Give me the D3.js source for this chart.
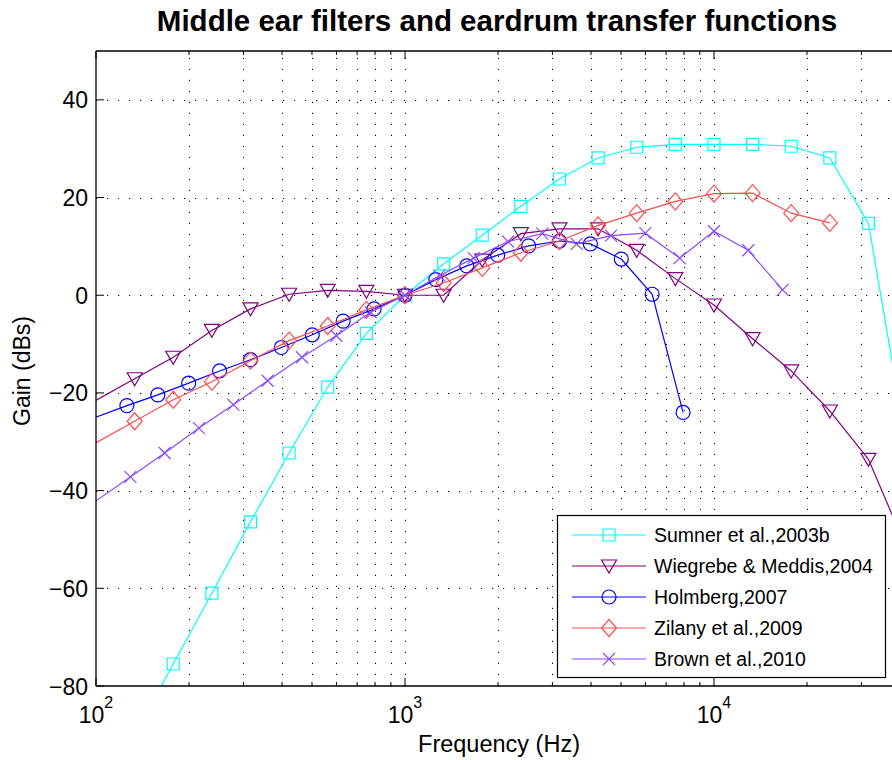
<!DOCTYPE html>
<html>
<head>
<meta charset="utf-8">
<script src="https://cdn.jsdelivr.net/npm/d3@7"></script>
<style>
  html, body { margin: 0; padding: 0; background: #fff; }
  svg { display: block; font-family: "Liberation Sans", Arial, Helvetica, sans-serif; }
</style>
</head>
<body>
<svg id="chart" width="892" height="760"></svg>
<script>
// ---------------- data ----------------
const seriesNames = ["Sumner et al.,2003b", "Wiegrebe & Meddis,2004", "Holmberg,2007", "Zilany et al.,2009", "Brown et al.,2010"];

const sumnerFreq = [133.4, 177.8, 237.1, 316.2, 421.7, 562.3, 749.9, 1000, 1333.5, 1778.3, 2371.4, 3162.3, 4217, 5623.4, 7498.9, 10000, 13335, 17783, 23714, 31623, 42170];
const sumnerGain = [-90, -75.5, -61.0, -46.4, -32.3, -18.8, -7.8, 0, 6.4, 12.3, 18.2, 23.8, 28.1, 30.3, 30.9, 30.9, 30.9, 30.5, 28.1, 14.7, -31.4];

const wiegFreq = [75, 133.4, 177.8, 237.1, 316.2, 421.7, 562.3, 749.9, 1000, 1333.5, 1778.3, 2371.4, 3162.3, 4217, 5623.4, 7498.9, 10000, 13335, 17783, 23714, 31623, 42170];
const wiegGain = [-25.9, -17.1, -12.7, -7.2, -2.8, 0.2, 1.0, 0.8, 0, 0.0, 7.2, 12.6, 13.6, 13.6, 9.2, 3.4, -2.0, -8.9, -15.5, -23.7, -33.6, -52.1];

const holmFreq = [79.4, 125.9, 158.5, 199.5, 251.2, 316.2, 398.1, 501.2, 631, 794.3, 1000, 1258.9, 1584.9, 1995.3, 2511.9, 3162.3, 3981.1, 5011.9, 6309.6, 7943.3];
const holmGain = [-27.3, -22.6, -20.4, -18.0, -15.5, -13.2, -10.7, -8.1, -5.3, -2.8, 0, 3.2, 6.0, 8.2, 10.1, 11.1, 10.5, 7.4, 0.2, -24.0];

const zilFreq = [75, 133.4, 177.8, 237.1, 316.2, 421.7, 562.3, 749.9, 1000, 1333.5, 1778.3, 2371.4, 3162.3, 4217, 5623.4, 7498.9, 10000, 13335, 17783, 23714];
const zilGain = [-34.6, -25.8, -21.4, -17.7, -13.4, -9.3, -6.3, -3.0, 0, 2.5, 5.6, 8.7, 11.1, 14.3, 16.8, 19.2, 20.8, 20.9, 16.8, 14.8];

const brownFreq = [77.4, 129.2, 166.8, 215.4, 278.3, 359.4, 464.2, 599.5, 774.3, 1000, 1291.5, 1668.1, 2154.4, 2782.6, 3593.8, 4641.6, 5994.8, 7742.6, 10000, 12915, 16681];
const brownGain = [-47, -37.2, -32.3, -27.2, -22.4, -17.5, -12.7, -8.3, -3.5, 0, 4.0, 7.6, 11.0, 12.6, 10.5, 12.2, 12.7, 7.6, 13.1, 9.2, 1.1];

const yTicks = [-80, -60, -40, -20, 0, 20, 40];
const xMajorTicks = [100, 1000, 10000];
const xMinorTicks = [200, 300, 400, 500, 600, 700, 800, 900, 2000, 3000, 4000, 5000, 6000, 7000, 8000, 9000, 20000, 30000, 40000];

const titleText = "Middle ear filters and eardrum transfer functions";
const xLabel = "Frequency (Hz)";
const yLabel = "Gain (dBs)";

// ---------------- layout ----------------
const colors = ["#00ffff", "#800080", "#0000ff", "#ff4d4d", "#8a4bff"];
const markers = ["square", "triangle", "circle", "diamond", "x"];
const series = [
  { freq: sumnerFreq, gain: sumnerGain },
  { freq: wiegFreq, gain: wiegGain },
  { freq: holmFreq, gain: holmGain },
  { freq: zilFreq, gain: zilGain },
  { freq: brownFreq, gain: brownGain }
];

const plot = { left: 96, right: 900, top: 51, bottom: 686 };
const x = d3.scaleLog().domain([100, 40000]).range([plot.left, plot.right]);
const y = d3.scaleLinear().domain([-80, 50]).range([plot.bottom, plot.top]);

const svg = d3.select("#chart");

svg.append("defs").append("clipPath").attr("id", "plotclip")
  .append("rect")
  .attr("x", plot.left).attr("y", plot.top)
  .attr("width", plot.right - plot.left).attr("height", plot.bottom - plot.top);

// grid
const grid = svg.append("g").attr("stroke", "#000").attr("stroke-width", 1)
  .attr("stroke-dasharray", "1.2,9.8").attr("fill", "none");
xMajorTicks.concat(xMinorTicks).forEach(v => {
  if (v <= 100) return;
  const px = Math.round(x(v)) + 0.5;
  grid.append("line").attr("x1", px).attr("x2", px).attr("y1", plot.bottom).attr("y2", plot.top);
});
yTicks.forEach(v => {
  if (v <= -80) return;
  const py = Math.round(y(v)) + 0.5;
  grid.append("line").attr("x1", plot.left).attr("x2", plot.right).attr("y1", py).attr("y2", py);
});

// marker path generator
function markerPath(type) {
  switch (type) {
    case "square": return "M-6,-6L6,-6L6,6L-6,6Z";
    case "triangle": return "M-7.5,-6L7.5,-6L0,7Z";
    case "circle": return "M7,0A7,7 0 1,1 -7,0A7,7 0 1,1 7,0Z";
    case "diamond": return "M0,-8.5L7.5,0L0,8.5L-7.5,0Z";
    case "x": return "M-6,-6L6,6M-6,6L6,-6";
  }
}

// series
const line = d3.line().x(d => x(d[0])).y(d => y(d[1]));
const dataG = svg.append("g").attr("clip-path", "url(#plotclip)");
series.forEach((s, i) => {
  const pts = s.freq.map((f, j) => [f, s.gain[j]]);
  const g = dataG.append("g");
  g.append("path").datum(pts).attr("d", line)
    .attr("fill", "none").attr("stroke", colors[i]).attr("stroke-width", 1.2);
  g.selectAll("path.mk").data(pts).enter().append("path").attr("class", "mk")
    .attr("d", markerPath(markers[i]))
    .attr("transform", d => `translate(${x(d[0])},${y(d[1])})`)
    .attr("fill", "none").attr("stroke", colors[i]).attr("stroke-width", 1.2);
});

// axes box
const axG = svg.append("g").attr("stroke", "#000").attr("stroke-width", 1.3).attr("fill", "none");
axG.append("line").attr("x1", plot.left).attr("x2", plot.right).attr("y1", plot.top).attr("y2", plot.top);
axG.append("line").attr("x1", plot.left).attr("x2", plot.right).attr("y1", plot.bottom).attr("y2", plot.bottom);
axG.append("line").attr("x1", plot.left).attr("x2", plot.left).attr("y1", plot.top).attr("y2", plot.bottom);
axG.append("line").attr("x1", plot.right).attr("x2", plot.right).attr("y1", plot.top).attr("y2", plot.bottom);

// ticks (inside)
const tkG = svg.append("g").attr("stroke", "#000").attr("stroke-width", 1);
yTicks.forEach(v => {
  const py = y(v);
  tkG.append("line").attr("x1", plot.left).attr("x2", plot.left + 8).attr("y1", py).attr("y2", py);
  tkG.append("line").attr("x1", plot.right).attr("x2", plot.right - 8).attr("y1", py).attr("y2", py);
});
xMajorTicks.forEach(v => {
  const px = x(v);
  tkG.append("line").attr("x1", px).attr("x2", px).attr("y1", plot.bottom).attr("y2", plot.bottom - 8);
  tkG.append("line").attr("x1", px).attr("x2", px).attr("y1", plot.top).attr("y2", plot.top + 8);
});
xMinorTicks.forEach(v => {
  const px = x(v);
  tkG.append("line").attr("x1", px).attr("x2", px).attr("y1", plot.bottom).attr("y2", plot.bottom - 4);
  tkG.append("line").attr("x1", px).attr("x2", px).attr("y1", plot.top).attr("y2", plot.top + 4);
});

// tick labels
const tickFont = 23;
yTicks.forEach(v => {
  svg.append("text").attr("x", plot.left - 8).attr("y", y(v) + 8.5)
    .attr("text-anchor", "end").attr("font-size", tickFont).attr("fill", "#000")
    .text(v < 0 ? "\u2212" + Math.abs(v) : String(v));
});
xMajorTicks.forEach(v => {
  const t = svg.append("text").attr("x", x(v)).attr("y", 723)
    .attr("text-anchor", "middle").attr("font-size", tickFont).attr("fill", "#000");
  t.append("tspan").text("10");
  t.append("tspan").attr("font-size", 16).attr("dy", -15).text(String(Math.round(Math.log10(v))));
});

// labels
svg.append("text").attr("x", 497).attr("y", 31).attr("text-anchor", "middle")
  .attr("font-size", 29.5).attr("font-weight", "bold").attr("fill", "#000").text(titleText);
svg.append("text").attr("x", 499).attr("y", 752).attr("text-anchor", "middle")
  .attr("font-size", 23.5).attr("fill", "#000").text(xLabel);
svg.append("text").attr("transform", "translate(30,371) rotate(-90)").attr("text-anchor", "middle")
  .attr("font-size", 23).attr("fill", "#000").text(yLabel);

// legend
const lg = svg.append("g");
lg.append("rect").attr("x", 557.5).attr("y", 515.5).attr("width", 328).attr("height", 162)
  .attr("fill", "#fff").attr("stroke", "#000").attr("stroke-width", 1.2);
seriesNames.forEach((name, i) => {
  const cy = 535 + i * 31;
  lg.append("line").attr("x1", 572).attr("x2", 646).attr("y1", cy).attr("y2", cy)
    .attr("stroke", colors[i]).attr("stroke-width", 1.2);
  lg.append("path").attr("d", markerPath(markers[i])).attr("transform", `translate(609,${cy})`)
    .attr("fill", "none").attr("stroke", colors[i]).attr("stroke-width", 1.2);
  lg.append("text").attr("x", 654).attr("y", cy + 7).attr("font-size", 19.5).attr("fill", "#000").text(name);
});
</script>
</body>
</html>
